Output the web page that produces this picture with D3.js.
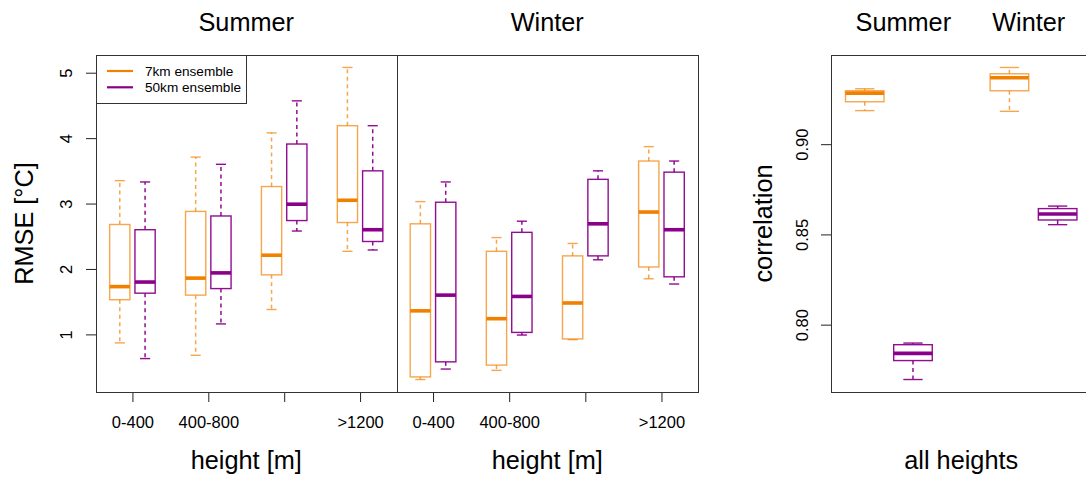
<!DOCTYPE html>
<html>
<head>
<meta charset="utf-8">
<script src="https://cdn.jsdelivr.net/npm/d3@7"></script>
<style>
  body { margin: 0; background: #fff; }
  text { font-family: "Liberation Sans", Arial, sans-serif; fill: #000; }
</style>
</head>
<body>
<script>
// --- data (min, q1, median, q3, max) ---
const heightBins = ['0-400', '400-800', '800-1200', '>1200'];
const heightTickLabels = ['0-400', '400-800', '', '>1200'];
const seriesNames = ['7km ensemble', '50km ensemble'];

const summer7km = [
  [0.87, 1.53, 1.73, 2.68, 3.35],
  [0.68, 1.60, 1.86, 2.88, 3.71],
  [1.38, 1.91, 2.21, 3.26, 4.08],
  [2.27, 2.71, 3.05, 4.19, 5.08]
];
const summer50km = [
  [0.63, 1.63, 1.80, 2.60, 3.33],
  [1.16, 1.70, 1.94, 2.81, 3.60],
  [2.58, 2.74, 2.99, 3.91, 4.57],
  [2.29, 2.42, 2.60, 3.50, 4.19]
];
const winter7km = [
  [0.31, 0.35, 1.36, 2.69, 3.03],
  [0.45, 0.53, 1.24, 2.27, 2.48],
  [0.92, 0.93, 1.48, 2.20, 2.39],
  [1.85, 2.03, 2.87, 3.65, 3.87]
];
const winter50km = [
  [0.47, 0.58, 1.60, 3.02, 3.33],
  [0.99, 1.03, 1.58, 2.56, 2.73],
  [2.14, 2.20, 2.69, 3.37, 3.50],
  [1.77, 1.88, 2.60, 3.48, 3.65]
];
const rmseTicks = [1, 2, 3, 4, 5];

const corrSummer7km = [0.9186, 0.9235, 0.9283, 0.9296, 0.9307];
const corrSummer50km = [0.7696, 0.7801, 0.7841, 0.7889, 0.7898];
const corrWinter7km = [0.9182, 0.9296, 0.9368, 0.9390, 0.9425];
const corrWinter50km = [0.8554, 0.8580, 0.8613, 0.8643, 0.8657];
const corrTicks = [0.80, 0.85, 0.90];

const orange = '#F28000';
const purple = '#8B008B';

const svg = d3.select('body').append('svg')
  .attr('width', 1086)
  .attr('height', 477);

const plotTop = 55, plotBottom = 392;
const bigFont = 25.3, tickFont = 16.5;

// R-style 4% axis extension
const extend = (lo, hi) => { const d = (hi - lo) * 0.04; return [lo - d, hi + d]; };

const allRmse = [summer7km, summer50km, winter7km, winter50km].flat(2);
const y = d3.scaleLinear()
  .domain(extend(d3.min(allRmse), d3.max(allRmse)))
  .range([plotBottom, plotTop]);

const allCorr = [corrSummer7km, corrSummer50km, corrWinter7km, corrWinter50km].flat();
const yc = d3.scaleLinear()
  .domain(extend(d3.min(allCorr), d3.max(allCorr)))
  .range([plotBottom, plotTop]);

// draw one box plot
function drawBox(g, xs, ys, pos, stats, col, unit) {
  const [mn, q1, md, q3, mx] = stats;
  const cx = xs(pos);
  const hw = unit * 0.4;
  const b = g.append('g').attr('fill', 'none');
  const light = col === orange ? 0.7 : 0.95;
  b.append('line').attr('x1', cx).attr('x2', cx).attr('y1', ys(q3)).attr('y2', ys(mx))
    .attr('stroke', col).attr('stroke-opacity', light).attr('stroke-width', 1.5).attr('stroke-dasharray', '4,3.5');
  b.append('line').attr('x1', cx).attr('x2', cx).attr('y1', ys(q1)).attr('y2', ys(mn))
    .attr('stroke', col).attr('stroke-opacity', light).attr('stroke-width', 1.5).attr('stroke-dasharray', '4,3.5');
  [mn, mx].forEach(v => {
    b.append('line').attr('x1', cx - hw / 2).attr('x2', cx + hw / 2).attr('y1', ys(v)).attr('y2', ys(v))
      .attr('stroke', col).attr('stroke-opacity', light).attr('stroke-width', 1.4);
  });
  b.append('rect').attr('x', cx - hw).attr('width', hw * 2)
    .attr('y', ys(q3)).attr('height', ys(q1) - ys(q3))
    .attr('fill', '#fff').attr('stroke', col).attr('stroke-opacity', light).attr('stroke-width', 1.4);
  b.append('line').attr('x1', cx - hw).attr('x2', cx + hw).attr('y1', ys(md)).attr('y2', ys(md))
    .attr('stroke', col).attr('stroke-width', 3.6);
}

// --- left: two height panels ---
const panels = [
  { title: 'Summer', x0: 96, x1: 396.5, s7: summer7km, s50: summer50km, yAxis: true },
  { title: 'Winter', x0: 396.5, x1: 698, s7: winter7km, s50: winter50km, yAxis: false }
];
const positions7 = [1, 4, 7, 10];
const positions50 = [2, 5, 8, 11];
const tickPos = [1.5, 4.5, 7.5, 10.5];

panels.forEach(p => {
  const x = d3.scaleLinear().domain(extend(0.5, 11.5)).range([p.x0, p.x1]);
  const unit = x(1) - x(0);
  const g = svg.append('g');

  heightBins.forEach((bin, i) => {
    drawBox(g, x, y, positions7[i], p.s7[i], orange, unit);
    drawBox(g, x, y, positions50[i], p.s50[i], purple, unit);
  });

  const xAxis = d3.axisBottom(x).tickValues(tickPos).tickSize(10).tickPadding(14)
    .tickFormat((d, i) => heightTickLabels[i]);
  const xa = g.append('g').attr('transform', `translate(0,${plotBottom})`).call(xAxis);
  xa.select('.domain').remove();
  xa.selectAll('line').attr('stroke', '#222');
  xa.selectAll('text').attr('font-size', tickFont).attr('font-family', '"Liberation Sans", Arial, sans-serif');

  g.append('text').attr('x', (p.x0 + p.x1) / 2).attr('y', 30.5)
    .attr('text-anchor', 'middle').attr('font-size', bigFont).text(p.title);
  g.append('text').attr('x', (p.x0 + p.x1) / 2).attr('y', 469)
    .attr('text-anchor', 'middle').attr('font-size', bigFont).text('height [m]');

  g.append('rect').attr('x', Math.round(p.x0) + 0.5).attr('y', plotTop + 0.5)
    .attr('width', Math.round(p.x1) - Math.round(p.x0)).attr('height', plotBottom - plotTop)
    .attr('fill', 'none').attr('stroke', '#333').attr('stroke-width', 1);

  if (p.yAxis) {
    const yAxis = d3.axisLeft(y).tickValues(rmseTicks).tickSize(10).tickFormat(d3.format('d'));
    const ya = g.append('g').attr('transform', `translate(${p.x0},0)`).call(yAxis);
    ya.select('.domain').remove();
    ya.selectAll('line').attr('stroke', '#222');
    ya.selectAll('text').attr('font-size', tickFont).attr('font-family', '"Liberation Sans", Arial, sans-serif')
      .attr('x', 0).attr('dy', 0).attr('text-anchor', 'middle')
      .attr('transform', 'translate(-24,0) rotate(-90)');
    g.append('text').attr('transform', `translate(33,${(plotTop + plotBottom) / 2}) rotate(-90)`)
      .attr('text-anchor', 'middle').attr('font-size', bigFont).text('RMSE [°C]');

    // legend
    const lg = g.append('g');
    lg.append('rect').attr('x', 96.5).attr('y', 55.5).attr('width', 150).attr('height', 48)
      .attr('fill', '#fff').attr('stroke', '#333');
    [orange, purple].forEach((c, i) => {
      const ly = 71 + i * 16.3;
      lg.append('line').attr('x1', 107).attr('x2', 133).attr('y1', ly).attr('y2', ly)
        .attr('stroke', c).attr('stroke-width', 2.2);
      lg.append('text').attr('x', 145).attr('y', ly + 5).attr('font-size', 13.6).text(seriesNames[i]);
    });
  }
});

// --- right: correlation panel ---
const xr = d3.scaleLinear().domain(extend(0.5, 5.5)).range([831, 1091.4]);
const unitR = xr(1) - xr(0);
const gr = svg.append('g');
drawBox(gr, xr, yc, 1, corrSummer7km, orange, unitR);
drawBox(gr, xr, yc, 2, corrSummer50km, purple, unitR);
drawBox(gr, xr, yc, 4, corrWinter7km, orange, unitR);
drawBox(gr, xr, yc, 5, corrWinter50km, purple, unitR);

gr.append('rect').attr('x', 831.5).attr('y', plotTop + 0.5).attr('width', 300).attr('height', plotBottom - plotTop)
  .attr('fill', 'none').attr('stroke', '#333');

const yAxisR = d3.axisLeft(yc).tickValues(corrTicks).tickSize(10).tickFormat(d3.format('.2f'));
const yar = gr.append('g').attr('transform', 'translate(831,0)').call(yAxisR);
yar.select('.domain').remove();
yar.selectAll('line').attr('stroke', '#222');
yar.selectAll('text').attr('font-size', tickFont).attr('font-family', '"Liberation Sans", Arial, sans-serif')
  .attr('x', 0).attr('dy', 0).attr('text-anchor', 'middle')
  .attr('transform', 'translate(-23,0) rotate(-90)');

gr.append('text').attr('x', xr(1.8)).attr('y', 30.5).attr('text-anchor', 'middle').attr('font-size', bigFont).text('Summer');
gr.append('text').attr('x', xr(4.4)).attr('y', 30.5).attr('text-anchor', 'middle').attr('font-size', bigFont).text('Winter');
gr.append('text').attr('x', xr(3)).attr('y', 469).attr('text-anchor', 'middle').attr('font-size', bigFont).text('all heights');
gr.append('text').attr('transform', `translate(772,${(plotTop + plotBottom) / 2}) rotate(-90)`)
  .attr('text-anchor', 'middle').attr('font-size', bigFont).text('correlation');
</script>
</body>
</html>
